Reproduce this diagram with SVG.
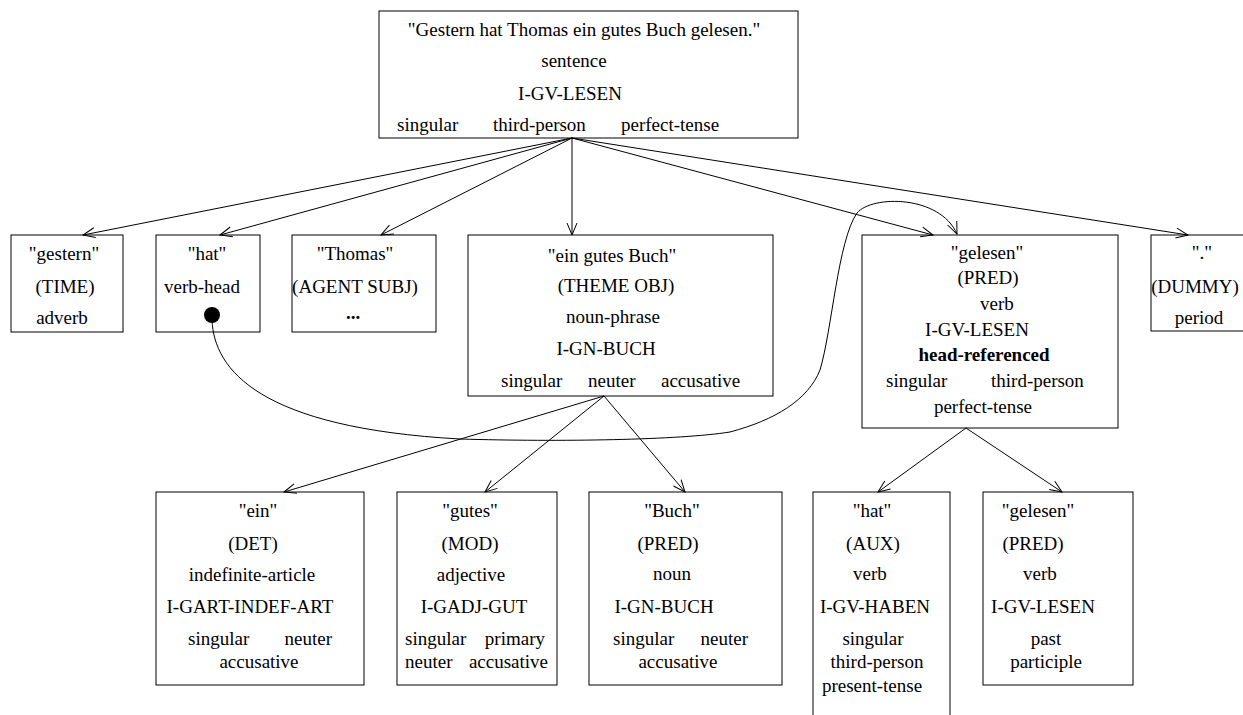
<svg xmlns="http://www.w3.org/2000/svg" width="1243" height="715" viewBox="0 0 1243 715">
<style>
.box{fill:none;stroke:#000;stroke-width:1}
text{font-family:"Liberation Serif","Times New Roman",serif;font-size:19px;fill:#000}
.m{text-anchor:middle}
.e{text-anchor:end}
.b{font-weight:bold}
.c{fill:none;stroke:#000;stroke-width:1}
</style>
<defs>
<marker id="ah" markerUnits="userSpaceOnUse" markerWidth="14" markerHeight="12" refX="12" refY="5" orient="auto" overflow="visible">
<path d="M0,0 L12,5 L0,10" fill="none" stroke="#000" stroke-width="1"/>
</marker>
</defs>
<rect x="0" y="0" width="1243" height="715" fill="#fff"/>
<g id="connectors">
<line class="c" x1="572" y1="138" x2="83" y2="235" marker-end="url(#ah)"/>
<line class="c" x1="572" y1="138" x2="220" y2="235" marker-end="url(#ah)"/>
<line class="c" x1="572" y1="138" x2="381" y2="235" marker-end="url(#ah)"/>
<line class="c" x1="572" y1="138" x2="572" y2="235" marker-end="url(#ah)"/>
<line class="c" x1="572" y1="138" x2="933" y2="235" marker-end="url(#ah)"/>
<line class="c" x1="572" y1="138" x2="1188" y2="235" marker-end="url(#ah)"/>
<line class="c" x1="604" y1="396" x2="284" y2="492" marker-end="url(#ah)"/>
<line class="c" x1="604" y1="396" x2="485" y2="492" marker-end="url(#ah)"/>
<line class="c" x1="604" y1="396" x2="685" y2="492" marker-end="url(#ah)"/>
<line class="c" x1="966" y1="428" x2="878" y2="492" marker-end="url(#ah)"/>
<line class="c" x1="966" y1="428" x2="1062" y2="492" marker-end="url(#ah)"/>
<path class="c" d="M212,320 C214,370 260,428 460,439 C560,442 680,440 730,432 C775,420 808,400 820,370 C832,330 838,240 857,213 C872,195 940,195 957,234" marker-end="url(#ah)"/>
<circle cx="212" cy="315" r="8" fill="#000"/>
</g>
<g id="n-sentence">
<rect class="box" x="379" y="11" width="419" height="127"/>
<text class="m" x="584" y="36">"Gestern hat Thomas ein gutes Buch gelesen."</text>
<text class="m" x="574" y="67">sentence</text>
<text class="m" x="570" y="100">I-GV-LESEN</text>
<text x="397" y="131">singular</text>
<text x="493" y="131">third-person</text>
<text x="621" y="131">perfect-tense</text>
</g>
<g id="n-gestern">
<rect class="box" x="11" y="235" width="112" height="97"/>
<text class="m" x="64" y="260">"gestern"</text>
<text class="m" x="65" y="293">(TIME)</text>
<text class="m" x="62" y="324">adverb</text>
</g>
<g id="n-hat">
<rect class="box" x="156" y="235" width="104" height="97"/>
<text class="m" x="207" y="260">"hat"</text>
<text class="m" x="202" y="293">verb-head</text>
</g>
<g id="n-thomas">
<rect class="box" x="292" y="235" width="144" height="97"/>
<text class="m" x="355" y="260">"Thomas"</text>
<text class="m" x="355" y="293">(AGENT SUBJ)</text>
<text class="m b" x="353" y="319">...</text>
</g>
<g id="n-np">
<rect class="box" x="468" y="235" width="305" height="161"/>
<text class="m" x="612" y="262">"ein gutes Buch"</text>
<text class="m" x="616" y="292">(THEME OBJ)</text>
<text class="m" x="613" y="323">noun-phrase</text>
<text class="m" x="606" y="355">I-GN-BUCH</text>
<text x="501" y="387">singular</text>
<text x="588" y="387">neuter</text>
<text x="661" y="387">accusative</text>
</g>
<g id="n-gelesen">
<rect class="box" x="862" y="235" width="256" height="193"/>
<text class="m" x="987" y="259">"gelesen"</text>
<text class="m" x="988" y="284">(PRED)</text>
<text class="m" x="997" y="310">verb</text>
<text class="m" x="977" y="336">I-GV-LESEN</text>
<text class="m b" x="984" y="361">head-referenced</text>
<text x="886" y="387">singular</text>
<text x="991" y="387">third-person</text>
<text class="m" x="983" y="413">perfect-tense</text>
</g>
<g id="n-period">
<rect class="box" x="1151" y="235" width="100" height="96"/>
<text class="m" x="1202" y="259">"."</text>
<text class="m" x="1195" y="293">(DUMMY)</text>
<text class="m" x="1199" y="324">period</text>
</g>
<g id="n-ein">
<rect class="box" x="156" y="492" width="208" height="193"/>
<text class="m" x="258" y="517">"ein"</text>
<text class="m" x="253" y="550">(DET)</text>
<text class="m" x="252" y="581">indefinite-article</text>
<text class="m" x="250" y="613">I-GART-INDEF-ART</text>
<text x="188" y="645">singular</text>
<text class="e" x="332" y="645">neuter</text>
<text class="m" x="259" y="668">accusative</text>
</g>
<g id="n-gutes">
<rect class="box" x="397" y="492" width="160" height="193"/>
<text class="m" x="470" y="517">"gutes"</text>
<text class="m" x="470" y="550">(MOD)</text>
<text class="m" x="471" y="581">adjective</text>
<text class="m" x="474" y="613">I-GADJ-GUT</text>
<text x="405" y="645">singular</text>
<text class="e" x="545" y="645">primary</text>
<text x="405" y="668">neuter</text>
<text class="e" x="548" y="668">accusative</text>
</g>
<g id="n-buch">
<rect class="box" x="589" y="492" width="193" height="193"/>
<text class="m" x="672" y="517">"Buch"</text>
<text class="m" x="668" y="550">(PRED)</text>
<text class="m" x="672" y="580">noun</text>
<text class="m" x="664" y="613">I-GN-BUCH</text>
<text x="613" y="645">singular</text>
<text class="e" x="748" y="645">neuter</text>
<text class="m" x="678" y="668">accusative</text>
</g>
<g id="n-aux">
<rect class="box" x="813" y="492" width="137" height="240"/>
<text class="m" x="872" y="517">"hat"</text>
<text class="m" x="873" y="550">(AUX)</text>
<text class="m" x="870" y="580">verb</text>
<text class="m" x="875" y="613">I-GV-HABEN</text>
<text class="m" x="873" y="645">singular</text>
<text class="m" x="877" y="668">third-person</text>
<text class="m" x="872" y="692">present-tense</text>
</g>
<g id="n-pred">
<rect class="box" x="983" y="492" width="150" height="193"/>
<text class="m" x="1038" y="517">"gelesen"</text>
<text class="m" x="1033" y="550">(PRED)</text>
<text class="m" x="1040" y="580">verb</text>
<text class="m" x="1043" y="613">I-GV-LESEN</text>
<text class="m" x="1046" y="645">past</text>
<text class="m" x="1046" y="668">participle</text>
</g>
</svg>
